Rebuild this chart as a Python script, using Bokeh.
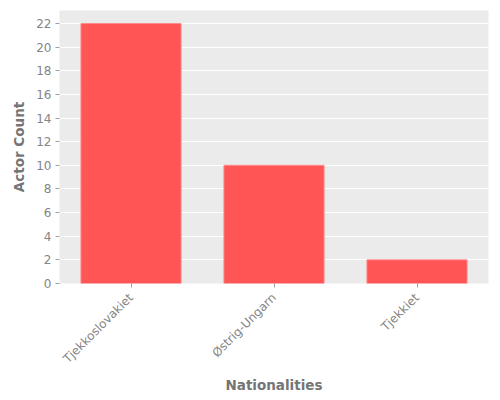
from bokeh.plotting import figure
from bokeh.models import ColumnDataSource, Range1d, FixedTicker
from bokeh.embed import file_html
from bokeh.resources import INLINE

nationalities = ["Tjekkoslovakiet", "Østrig-Ungarn", "Tjekkiet"]
actor_counts = [22, 10, 2]
y_ticks = list(range(0, 23, 2))

FONT = "DejaVu Sans"
TEXT = "#858585"
LABEL = "#757575"

src = ColumnDataSource(data=dict(nat=nationalities, count=actor_counts))

p = figure(
    x_range=nationalities,
    y_range=Range1d(0, 23.1),
    width=500,
    height=400,
    output_backend="svg",
    toolbar_location=None,
    background_fill_color="#EBEBEB",
    border_fill_color="white",
    outline_line_color=None,
    min_border_left=59,
    min_border_right=12,
    min_border_top=10,
    min_border_bottom=117,
)
p.x_range.range_padding = 0

p.vbar(x="nat", top="count", width=0.7, source=src,
       fill_color="#FF5555", line_color="#FF8A8A", line_width=1)

p.xgrid.grid_line_color = None
p.ygrid.grid_line_color = "white"
p.ygrid.grid_line_width = 1
p.yaxis.ticker = FixedTicker(ticks=y_ticks)

p.axis.axis_line_color = None
p.axis.major_tick_line_color = "#A0A0A0"
p.axis.major_tick_in = 0
p.axis.major_tick_out = 4
p.axis.minor_tick_line_color = None
p.axis.major_label_text_font = FONT
p.axis.major_label_text_font_size = "12px"
p.axis.major_label_text_color = TEXT
p.axis.major_label_standoff = 4
p.axis.axis_label_text_font = FONT
p.axis.axis_label_text_font_size = "13.5px"
p.axis.axis_label_text_font_style = "bold"
p.axis.axis_label_text_color = LABEL
p.axis.axis_label_standoff = 6

p.xaxis.major_label_orientation = 0.785
p.xaxis.major_label_standoff = 8
p.xaxis.axis_label_standoff = 3
p.xaxis.axis_label = "Nationalities"
p.yaxis.axis_label = "Actor Count"

open("out.html", "w").write(file_html(p, INLINE))
